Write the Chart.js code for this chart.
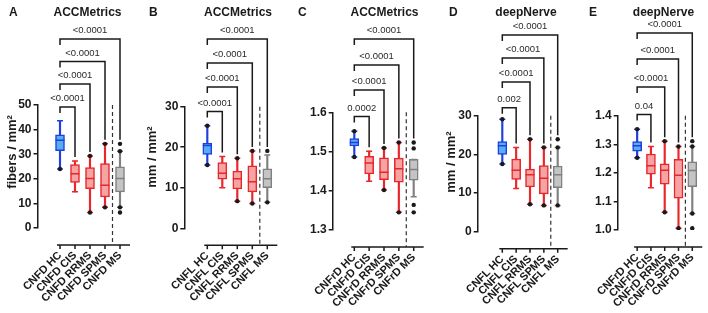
<!DOCTYPE html>
<html><head><meta charset="utf-8">
<script src="https://cdn.jsdelivr.net/npm/chart.js@4.4.1/dist/chart.umd.min.js"></script>
<style>
html,body{margin:0;padding:0;background:#fff;}
#wrap{position:relative;width:708px;height:313px;overflow:hidden;background:#fff;}
canvas{position:absolute;left:0;top:0;}
</style></head><body><div id="wrap">
<canvas id="cA" width="708" height="313"></canvas>
<canvas id="cB" width="708" height="313"></canvas>
<canvas id="cC" width="708" height="313"></canvas>
<canvas id="cD" width="708" height="313"></canvas>
<canvas id="cE" width="708" height="313"></canvas>
</div>
<script>
// ---------- Panel A : ACCMetrics CNFD ----------
const catsA = ['CNFD HC','CNFD CIS','CNFD RRMS','CNFD SPMS','CNFD MS'];
const minA = [24.0, 14.7, 6.3, 8.4, 8.4];
const q1A  = [31.4, 18.5, 16.0, 12.6, 14.7];
const medA = [35.7, 22.1, 20.1, 17.4, 20.1];
const q3A  = [37.9, 25.8, 24.6, 26.2, 24.9];
const maxA = [43.6, 27.2, 29.3, 34.2, 31.2];
const dotsA = [[0,24.0],[2,29.3],[2,6.3],[3,34.2],[3,8.4],[4,34.2],[4,31.2],[4,8.4],[4,6.3]];
const pA = ['<0.0001','<0.0001','<0.0001','<0.0001'];
const yTicksA = [0,10,20,30,40,50];
const yTickLabelsA = ['0','10','20','30','40','50'];

// ---------- Panel B : ACCMetrics CNFL ----------
const catsB = ['CNFL HC','CNFL CIS','CNFL RRMS','CNFL SPMS','CNFL MS'];
const minB = [15.6, 10.0, 6.7, 6.1, 6.4];
const q1B  = [18.2, 12.1, 9.7, 9.0, 10.0];
const medB = [20.4, 13.6, 12.2, 11.5, 12.2];
const q3B  = [21.0, 16.2, 14.1, 15.4, 14.7];
const maxB = [25.3, 17.7, 17.3, 19.1, 18.1];
const dotsB = [[0,25.3],[0,15.6],[2,17.3],[2,6.7],[3,19.1],[3,6.1],[4,19.1],[4,6.4]];
const pB = ['<0.0001','<0.0001','<0.0001','<0.0001'];
const yTicksB = [0,10,20,30];
const yTickLabelsB = ['0','10','20','30'];

// ---------- Panel C : ACCMetrics CNFrD ----------
const catsC = ['CNFrD HC','CNFrD CIS','CNFrD RRMS','CNFrD SPMS','CNFrD MS'];
const minC = [1.486, 1.424, 1.402, 1.345, 1.385];
const q1C  = [1.514, 1.443, 1.428, 1.422, 1.427];
const medC = [1.523, 1.471, 1.447, 1.456, 1.454];
const q3C  = [1.533, 1.488, 1.484, 1.483, 1.480];
const maxC = [1.552, 1.501, 1.509, 1.523, 1.480];
const dotsC = [[0,1.552],[0,1.486],[2,1.509],[2,1.402],[3,1.523],[3,1.345],[4,1.523],[4,1.508],[4,1.364],[4,1.345]];
const pC = ['0.0002','<0.0001','<0.0001','<0.0001'];
const yTicksC = [1.3,1.4,1.5,1.6];
const yTickLabelsC = ['1.3','1.4','1.5','1.6'];

// ---------- Panel D : deepNerve CNFL ----------
const catsD = ['CNFL HC','CNFL CIS','CNFL RRMS','CNFL SPMS','CNFL MS'];
const minD = [17.5, 11.2, 7.1, 6.8, 6.8];
const q1D  = [20.0, 13.5, 11.6, 9.8, 11.4];
const medD = [22.2, 15.9, 14.7, 13.8, 14.7];
const q3D  = [23.3, 18.8, 16.2, 17.1, 17.0];
const maxD = [29.1, 21.8, 23.9, 21.8, 21.8];
const dotsD = [[0,29.1],[0,17.5],[2,23.9],[2,7.1],[3,21.8],[3,6.8],[4,23.9],[4,21.8],[4,6.8]];
const pD = ['0.002','<0.0001','<0.0001','<0.0001'];
const yTicksD = [0,10,20,30];
const yTickLabelsD = ['0','10','20','30'];

// ---------- Panel E : deepNerve CNFrD ----------
const catsE = ['CNFrD HC','CNFrD CIS','CNFrD RRMS','CNFrD SPMS','CNFrD MS'];
const minE = [1.253, 1.148, 1.062, 1.006, 1.058];
const q1E  = [1.276, 1.195, 1.160, 1.111, 1.152];
const medE = [1.295, 1.225, 1.209, 1.192, 1.208];
const q3E  = [1.309, 1.266, 1.232, 1.247, 1.239];
const maxE = [1.353, 1.292, 1.311, 1.292, 1.292];
const dotsE = [[0,1.353],[0,1.253],[2,1.311],[2,1.062],[3,1.292],[3,1.006],[4,1.311],[4,1.292],[4,1.058],[4,1.006]];
const pE = ['0.04','<0.0001','<0.0001','<0.0001'];
const yTicksE = [1.0,1.1,1.2,1.3,1.4];
const yTickLabelsE = ['1.0','1.1','1.2','1.3','1.4'];

// ---------- styling / layout ----------
const FONT = 'Liberation Sans, Arial, Helvetica, sans-serif';
Chart.defaults.font.family = FONT;
const INK = '#1a1a1a';
const edgeCols = ['#1f3fe0','#e8262b','#e8262b','#e8262b','#808080'];
const fillCols = ['#56aef0','#f5a3a3','#f5a3a3','#f5a3a3','#c4c4c4'];

const panels = [
 {id:'cA', letter:'A', letterX:9,   title:'ACCMetrics', titleX:87.5, yTitle:'fibers / mm²', yTitleX:12.5, yTitleY:152,
  L:37.5, c0:60, s:15, T:105, B:228, R:133, bracketY:[107,84,61.5,39],
  cats:catsA, min:minA, q1:q1A, med:medA, q3:q3A, max:maxA, dots:dotsA, p:pA, yTicks:yTicksA, yLabels:yTickLabelsA},
 {id:'cB', letter:'B', letterX:149, title:'ACCMetrics', titleX:238, yTitle:'mm / mm²', yTitleX:152, yTitleY:157,
  L:184.3, c0:207.3, s:15, T:106.7, B:228.3, R:280, bracketY:[111.5,87,63,39],
  cats:catsB, min:minB, q1:q1B, med:medB, q3:q3B, max:maxB, dots:dotsB, p:pB, yTicks:yTicksB, yLabels:yTickLabelsB},
 {id:'cC', letter:'C', letterX:298, title:'ACCMetrics', titleX:384.5, yTitle:'', yTitleX:0, yTitleY:0,
  L:332.7, c0:354.3, s:14.85, T:112.3, B:230, R:426, bracketY:[116.5,90,65,39],
  cats:catsC, min:minC, q1:q1C, med:medC, q3:q3C, max:maxC, dots:dotsC, p:pC, yTicks:yTicksC, yLabels:yTickLabelsC},
 {id:'cD', letter:'D', letterX:449, title:'deepNerve', titleX:526, yTitle:'mm / mm²', yTitleX:451.5, yTitleY:162,
  L:477.7, c0:502.3, s:13.85, T:115.7, B:231.7, R:570, bracketY:[107.7,82,58,35],
  cats:catsD, min:minD, q1:q1D, med:medD, q3:q3D, max:maxD, dots:dotsD, p:pD, yTicks:yTicksD, yLabels:yTickLabelsD},
 {id:'cE', letter:'E', letterX:589, title:'deepNerve', titleX:663.5, yTitle:'', yTitleX:0, yTitleY:0,
  L:617.7, c0:638.3, s:14.6, T:115.7, B:230, R:707, bracketY:[114.5,87,59,33],
  cats:catsE, min:minE, q1:q1E, med:medE, q3:q3E, max:maxE, dots:dotsE, p:pE, yTicks:yTicksE, yLabels:yTickLabelsE}
];

function overlay(P){
  return {
    id:'overlay'+P.letter,
    afterDraw(chart){
      const ctx = chart.ctx, xs = chart.scales.x, ys = chart.scales.y, ca = chart.chartArea;
      const px = i => xs.getPixelForValue(i);
      const n = P.cats.length;
      ctx.save();
      ctx.strokeStyle = INK; ctx.fillStyle = INK; ctx.lineWidth = 1.5;
      // offset x axis
      const ay = ca.bottom + 17;
      ctx.beginPath();
      ctx.moveTo(px(0)-3, ay); ctx.lineTo(px(n-1)+10, ay);
      for (let i=0;i<n;i++){ ctx.moveTo(px(i), ay); ctx.lineTo(px(i), ay+4); }
      ctx.stroke();
      // dashed separator
      const dx = (px(n-2)+px(n-1))/2;
      ctx.save(); ctx.setLineDash([4,3]); ctx.lineWidth = 1.2; ctx.strokeStyle = '#333';
      ctx.beginPath(); ctx.moveTo(dx, ca.top); ctx.lineTo(dx, ay); ctx.stroke(); ctx.restore();
      // significance brackets
      ctx.font = '9.5px ' + FONT; ctx.textAlign = 'center'; ctx.textBaseline = 'middle';
      for (let k=1;k<n;k++){
        const y = P.bracketY[k-1];
        let top = P.max[k];
        P.dots.forEach(d => { if (d[0]===k && d[1]>top) top = d[1]; });
        const yEnd = ys.getPixelForValue(top) - 4;
        const x0 = px(0), x1 = px(k);
        ctx.beginPath();
        ctx.moveTo(x0, y+6); ctx.lineTo(x0, y); ctx.lineTo(x1, y); ctx.lineTo(x1, yEnd);
        ctx.stroke();
        ctx.fillStyle = '#2a2a2a';
        ctx.fillText(P.p[k-1], (x0+x1)/2, y-8.5);
      }
      // panel letter and title
      ctx.fillStyle = INK;
      ctx.font = 'bold 12px ' + FONT; ctx.textAlign = 'left';
      ctx.fillText(P.letter, P.letterX, 13);
      ctx.textAlign = 'center';
      ctx.fillText(P.title, P.titleX, 13);
      // y title
      if (P.yTitle){
        ctx.save();
        ctx.translate(P.yTitleX, P.yTitleY); ctx.rotate(-Math.PI/2);
        ctx.font = 'bold 13px ' + FONT; ctx.textAlign = 'center'; ctx.textBaseline = 'middle';
        ctx.fillText(P.yTitle, 0, 0);
        ctx.restore();
      }
      ctx.restore();
    }
  };
}

panels.forEach(P => {
  const idx = P.cats.map((c,i)=>i);
  new Chart(document.getElementById(P.id), {
    data:{
      datasets:[
        {type:'line', showLine:false, data: idx.map(i=>({x:i, y:P.med[i]})),
         pointStyle:'line', pointRadius:4.5, pointHoverRadius:4.5, pointBorderWidth:1.5,
         pointBorderColor: edgeCols, borderColor: edgeCols},
        {type:'line', showLine:false, data: P.dots.map(d=>({x:d[0], y:d[1]})),
         pointStyle:'circle', pointRadius:2.2, pointHoverRadius:2.2, pointBorderWidth:0,
         pointBackgroundColor: INK, borderColor: INK},
        {type:'line', showLine:false, data: idx.map(i=>({x:i, y:P.max[i]})),
         pointStyle:'line', pointRadius:3, pointHoverRadius:3, pointBorderWidth:1.5,
         pointBorderColor: edgeCols, borderColor: edgeCols},
        {type:'line', showLine:false, data: idx.map(i=>({x:i, y:P.min[i]})),
         pointStyle:'line', pointRadius:3, pointHoverRadius:3, pointBorderWidth:1.5,
         pointBorderColor: edgeCols, borderColor: edgeCols},
        {type:'bar', data: idx.map(i=>({x:i, y:[P.q1[i], P.q3[i]]})), grouped:false,
         barThickness:9, backgroundColor: fillCols, borderColor: edgeCols, borderWidth:1.5, borderSkipped:false},
        {type:'bar', data: idx.map(i=>({x:i, y:[P.min[i], P.max[i]]})), grouped:false,
         barThickness:1.5, backgroundColor: edgeCols, borderWidth:0}
      ]
    },
    options:{
      responsive:false, animation:false, devicePixelRatio:1, events:[],
      layout:{padding:{left:P.L-30, right:708-P.R, top:P.T, bottom:0}},
      plugins:{legend:{display:false}, tooltip:{enabled:false}},
      scales:{
        x:{type:'linear', offset:false, min:(P.L-P.c0)/P.s, max:(P.R-P.c0)/P.s, bounds:'data',
           afterBuildTicks: sc => { sc.ticks = idx.map(i=>({value:i})); },
           afterFit: sc => { sc.height = 313 - P.B; sc.paddingLeft = 0; sc.paddingRight = 0; },
           grid:{display:true, offset:false, drawOnChartArea:false, drawTicks:true, tickLength:21, color:'rgba(0,0,0,0)'},
           border:{display:false},
           ticks:{autoSkip:false, minRotation:45, maxRotation:45, padding:0, color:INK,
                  font:{size:11, weight:'bold'}, callback: v => P.cats[v]}},
        y:{type:'linear', min:P.yTicks[0], max:P.yTicks[P.yTicks.length-1],
           afterBuildTicks: sc => { sc.ticks = P.yTicks.map(v=>({value:v})); },
           afterFit: sc => { sc.width = 30; },
           grid:{display:true, drawOnChartArea:false, drawTicks:true, tickLength:4, color:INK, lineWidth:1.5},
           border:{display:true, color:INK, width:1.5},
           ticks:{padding:2, color:INK, font:{size:12, weight:'bold'}, callback:(v,i)=>P.yLabels[i]}}
      }
    },
    plugins:[overlay(P)]
  });
});
</script></body></html>
